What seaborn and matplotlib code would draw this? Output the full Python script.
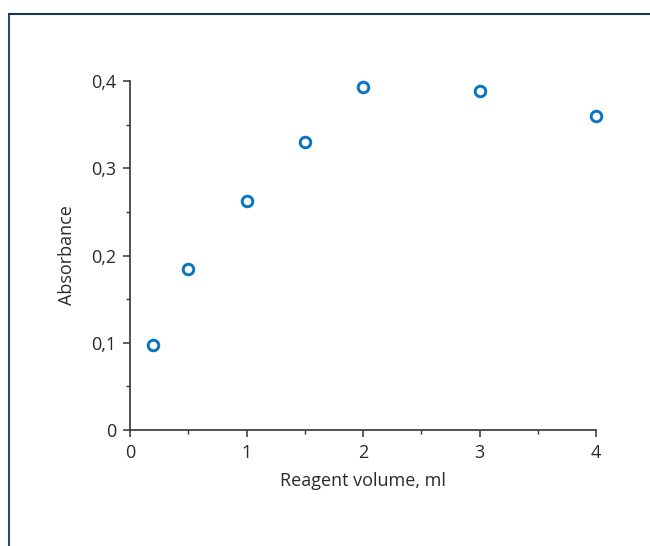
import matplotlib
matplotlib.use("Agg")
import matplotlib.pyplot as plt
import matplotlib.ticker as mticker
from matplotlib.lines import Line2D
import seaborn as sns
import pandas as pd

volume = [0.2, 0.5, 1.0, 1.5, 2.0, 3.0, 4.0]
absorbance = [0.097, 0.184, 0.263, 0.330, 0.393, 0.389, 0.360]
x_ticks = [0, 1, 2, 3, 4]
y_ticks = [0, 0.1, 0.2, 0.3, 0.4]

sns.set_style("ticks")
plt.rcParams['font.family'] = ['Open Sans', 'DejaVu Sans']

df = pd.DataFrame({"volume": volume, "absorbance": absorbance})

fig = plt.figure(figsize=(6.5, 5.46), dpi=100)
ax = fig.add_axes([0.2, 0.2125, 0.717, 0.6391])

sns.scatterplot(data=df, x="volume", y="absorbance", ax=ax,
                marker="o", s=58, facecolor="white", edgecolor="#0a74c2",
                linewidth=2.1, zorder=3, clip_on=False)

ax.set_xlim(0, 4)
ax.set_ylim(0, 0.4)
ax.set_xticks(x_ticks)
ax.set_yticks(y_ticks)
ax.xaxis.set_minor_locator(mticker.MultipleLocator(0.5))
ax.yaxis.set_minor_locator(mticker.MultipleLocator(0.05))
ax.yaxis.set_major_formatter(mticker.FuncFormatter(
    lambda v, p: "0" if v == 0 else f"{v:.1f}".replace(".", ",")))
ax.xaxis.set_major_formatter(mticker.FuncFormatter(lambda v, p: f"{v:g}"))

for side in ["top", "right"]:
    ax.spines[side].set_visible(False)
for side in ["left", "bottom"]:
    ax.spines[side].set_color("#333333")
    ax.spines[side].set_linewidth(1.2)

ax.tick_params(axis="both", which="major", length=5, width=1.1,
               color="#333333", labelsize=13, labelcolor="#2a2a2a", pad=5)
ax.tick_params(axis="both", which="minor", length=3, width=1.0, color="#333333")

ax.set_xlabel("Reagent volume, ml", fontsize=13, color="#2a2a2a", labelpad=7)
ax.set_ylabel("Absorbance", fontsize=13, color="#2a2a2a", labelpad=11)

# decorative frame (left and top edges)
fx = 8.5 / 650
fy = 1 - 13.5 / 546
fig.add_artist(Line2D([fx, fx], [0, fy], transform=fig.transFigure,
                      color="#2a4a6a", linewidth=1.5))
fig.add_artist(Line2D([fx, 1], [fy, fy], transform=fig.transFigure,
                      color="#1a3550", linewidth=1.5))

fig.savefig("out.png", dpi=100)
